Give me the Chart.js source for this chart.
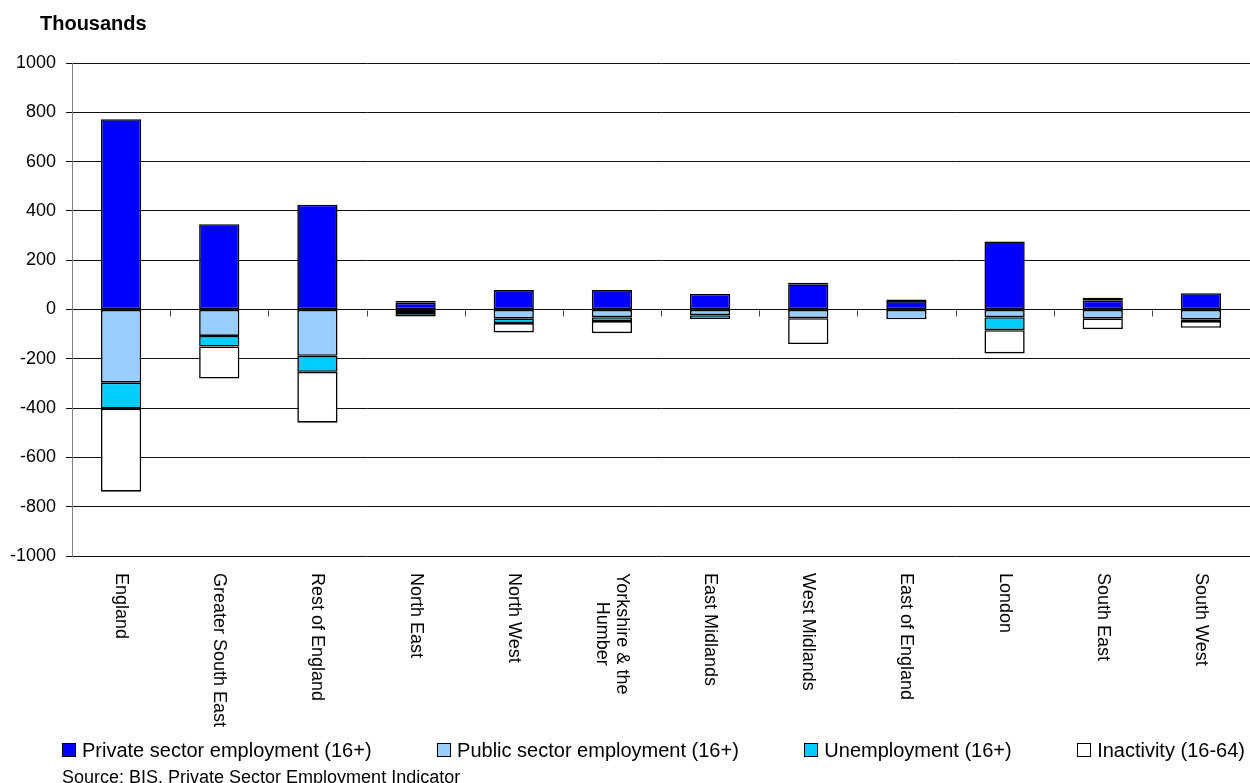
<!DOCTYPE html>
<html>
<head>
<meta charset="utf-8">
<title>Labour market change by region</title>
<script src="https://cdn.jsdelivr.net/npm/chart.js@4.4.1/dist/chart.umd.min.js"></script>
<style>
body{margin:0;background:#fff;font-family:"Liberation Sans",Arial,sans-serif;color:#000;}
#wrap{position:relative;width:1250px;height:783px;overflow:hidden;}
#chart{position:absolute;left:0;top:0;}
#units{position:absolute;left:40px;top:13px;font-size:20px;line-height:20px;font-weight:bold;}
#legend{position:absolute;left:62px;right:5px;top:740px;display:flex;justify-content:space-between;font-size:20px;line-height:20px;white-space:nowrap;}
#legend .box{display:inline-block;width:12px;height:12px;border:1px solid #000;margin-right:6px;}
#source{position:absolute;left:62px;top:768px;font-size:18px;line-height:18px;white-space:nowrap;}
</style>
</head>
<body>
<div id="wrap">
<canvas id="chart" width="1250" height="783"></canvas>
<div id="units">Thousands</div>
<div id="legend"></div>
<div id="source">Source: BIS, Private Sector Employment Indicator</div>
</div>
<script>
// regions along the x axis
var regions=["England","Greater South East","Rest of England","North East","North West",
  ["Yorkshire & the","Humber"],"East Midlands","West Midlands","East of England","London","South East","South West"];

// change in thousands
var privateEmp=[772,346,425,27,79,79,63,102,34,276,36,66];
var publicEmp=[-297,-107,-188,-14,-36,-31,-23,-35,-40,-31,-36,-40];
var unemployment=[-105,-43,-65,-14,-19,-16,-16,7,0,-53,12,-7];
var inactivity=[-337,-130,-206,7,-38,-49,0,-105,7,-94,-44,-27];

var seriesNames=["Private sector employment (16+)","Public sector employment (16+)","Unemployment (16+)","Inactivity (16-64)"];
var seriesColors=["#0000ff","#99ccff","#00ccff","#ffffff"];

var yMin=-1000, yMax=1000, yStep=200;

var FONT='"Liberation Sans", Arial, sans-serif';

// region names run top-to-bottom under the plot, and the zero line gets
// little tick marks between categories
var regionAxis={
  id:"regionAxis",
  afterDraw:function(chart){
    var ctx=chart.ctx, x=chart.scales.x, y=chart.scales.y;
    var zero=Math.round(y.getPixelForValue(0))+0.5;
    var half=(x.getPixelForValue(1)-x.getPixelForValue(0))/2;
    ctx.save();
    ctx.strokeStyle="#444";
    ctx.lineWidth=1;
    ctx.beginPath();
    for(var i=0;i<regions.length;i++){
      var px=Math.round(x.getPixelForValue(i)+half)+0.5;
      ctx.moveTo(px,zero);
      ctx.lineTo(px,zero+6);
    }
    ctx.stroke();

    ctx.font="18px "+FONT;
    ctx.fillStyle="#000";
    ctx.textAlign="center";
    ctx.textBaseline="middle";
    var top=y.bottom+17, lineH=20;
    regions.forEach(function(r,i){
      var lines=Array.isArray(r)?r:[r];
      var w=0;
      lines.forEach(function(l){w=Math.max(w,ctx.measureText(l).width);});
      ctx.save();
      ctx.translate(x.getPixelForValue(i),top);
      ctx.rotate(Math.PI/2);
      lines.forEach(function(l,j){
        ctx.fillText(l,w/2,(j-(lines.length-1)/2)*lineH);
      });
      ctx.restore();
    });
    ctx.restore();
  }
};

var values=[privateEmp,publicEmp,unemployment,inactivity];
var datasets=seriesNames.map(function(name,k){
  return {
    label:name,
    data:values[k],
    backgroundColor:seriesColors[k],
    borderColor:"#000",
    // no outline for empty segments
    borderWidth:function(c){return c.raw===0?0:1.6;},
    borderSkipped:false,
    barPercentage:0.41,
    categoryPercentage:1
  };
});

new Chart("chart",{
  type:"bar",
  data:{labels:regions,datasets:datasets},
  plugins:[regionAxis],
  options:{
    responsive:false,
    animation:false,
    layout:{padding:{top:63,left:0,right:0,bottom:0}},
    plugins:{legend:{display:false},tooltip:{enabled:false}},
    scales:{
      x:{
        stacked:true,
        grid:{display:false},
        border:{display:false},
        ticks:{display:false},
        afterFit:function(axis){axis.height=227;}
      },
      y:{
        stacked:true,
        min:yMin,max:yMax,
        ticks:{stepSize:yStep,color:"#000",padding:10,font:{family:FONT,size:18},
          callback:function(v){return String(v);}},
        grid:{color:"#111",lineWidth:1,tickLength:6,tickColor:"#111"},
        border:{color:"#808080"},
        afterFit:function(axis){axis.width=72;}
      }
    }
  }
});

// legend row under the region names
var legend=document.getElementById("legend");
seriesNames.forEach(function(name,k){
  var item=document.createElement("span");
  var box=document.createElement("span");
  box.className="box";
  box.style.background=seriesColors[k];
  item.appendChild(box);
  item.appendChild(document.createTextNode(name));
  legend.appendChild(item);
});
</script>
</body>
</html>
